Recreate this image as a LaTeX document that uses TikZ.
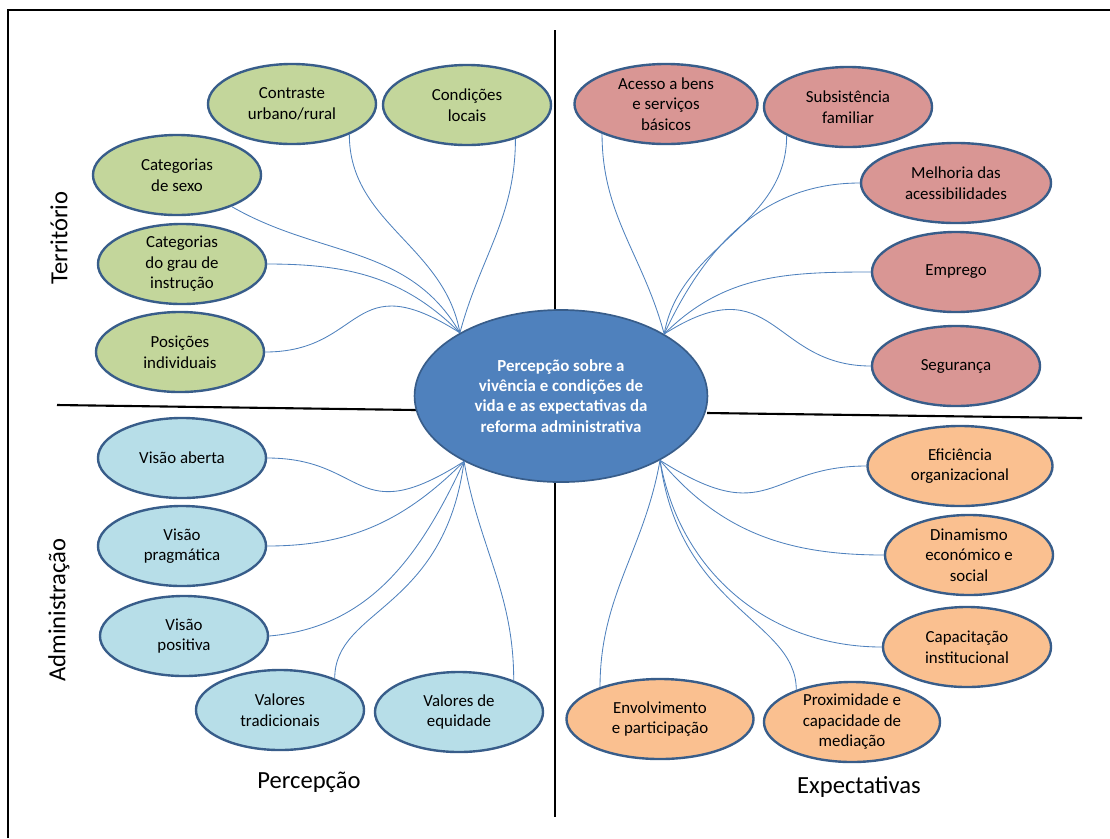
\documentclass[tikz,border=0pt]{standalone}
\usepackage{fontspec}
\setmainfont{Carlito}
\usetikzlibrary{shapes.geometric}
\definecolor{borda}{HTML}{385D8A}
\definecolor{liga}{HTML}{4F81BD}
\definecolor{verde}{HTML}{C3D69B}
\definecolor{rosa}{HTML}{D99694}
\definecolor{azul}{HTML}{B7DEE8}
\definecolor{laranja}{HTML}{FAC090}
\tikzset{
  bubble/.style={ellipse, draw=borda, line width=1.7pt, inner sep=0pt,
    minimum width=4.2cm, minimum height=2cm, align=center,
    font=\fontsize{12}{14.6}\selectfont},
  terr/.style={bubble, fill=verde},
  expe/.style={bubble, fill=rosa},
  adm/.style={bubble, fill=azul},
  expt/.style={bubble, fill=laranja},
  link/.style={liga, line width=0.6pt},
  axis/.style={font=\fontsize{17.5}{20}\selectfont}
}
\begin{document}
\begin{tikzpicture}[x=0.025cm, y=0.025cm]
\useasboundingbox (0,0) rectangle (1110,-838);
% frame and quadrants
\draw[line width=2.1pt] (8,-838) -- (8,-10) -- (1110,-10);
\draw[line width=1.5pt] (555,-30) -- (555,-817);
\draw[line width=1.5pt] (57,-405) -- (416,-410);
\draw[line width=1.5pt] (707,-413) -- (1082,-418);

% centre
\node[ellipse, draw=borda, fill=liga, line width=1.2pt, inner sep=0pt,
  minimum width=7.32cm, minimum height=4.3cm, align=center, text=white,
  font=\fontsize{12}{14.4}\selectfont\bfseries] (hub) at (561,-396)
  {Percepção sobre a\\vivência e condições de\\vida e as expectativas da\\reforma administrativa};
\coordinate (tl) at (hub.148);
\coordinate (tr) at (hub.31);
\coordinate (bl) at (hub.214);
\coordinate (br) at (hub.327);

% Territorio
\node[terr] (contraste) at (292,-104) {Contraste\\urbano/rural};
\node[terr] (condicoes) at (467,-105) {Condições\\locais};
\node[terr] (sexo) at (177,-175) {Categorias\\de sexo};
\node[terr] (grau) at (182,-264) {Categorias\\do grau de\\instrução};
\node[terr] (posicoes) at (180,-352) {Posições\\individuais};

% Expectativas (top)
\node[expe, minimum width=4.575cm] (acesso) at (666,-104) {Acesso a bens\\e serviços\\básicos};
\node[expe] (subsist) at (848,-107) {Subsistência\\familiar};
\node[expe, minimum width=4.75cm] (melhoria) at (956,-183) {Melhoria das\\acessibilidades};
\node[expe] (emprego) at (956,-272) {Emprego};
\node[expe] (seguranca) at (956,-366) {Segurança};

% Administracao
\node[adm] (aberta) at (182,-458) {Visão aberta};
\node[adm] (pragmatica) at (182,-546) {Visão\\pragmática};
\node[adm] (positiva) at (184,-636) {Visão\\positiva};
\node[adm] (tradicionais) at (280,-710) {Valores\\tradicionais};
\node[adm] (equidade) at (459,-712) {Valores de\\equidade};

% Expectativas (bottom)
\node[expt, minimum width=4.625cm] (eficiencia) at (960,-466) {Eficiência\\organizacional};
\node[expt] (dinamismo) at (969,-555) {Dinamismo\\económico e\\social};
\node[expt] (capacitacao) at (967,-647) {Capacitação\\institucional};
\node[expt, minimum width=4.675cm] (envolvimento) at (660,-719) {Envolvimento\\e participação};
\node[expt, minimum width=4.4cm] (proximidade) at (852,-722) {Proximidade e\\capacidade de\\mediação};

% axis labels
\node[axis, rotate=90] (territorio) at (59,-238) {Território};
\node[axis, rotate=90] (administracao) at (59,-610) {Administração};
\node[axis] (percepcao) at (309,-782) {Percepção};
\node[axis] (expectativas) at (859,-787) {Expectativas};

% connectors
\draw[link] (contraste.-28) to[out=-90,in=100] (tl);
\draw[link] (condicoes.-35) to[out=-90,in=75] (tl);
\draw[link] (sexo.-30) to[out=-30,in=120] (tl);
\draw[link] (grau.east) to[out=0,in=135] (tl);
\draw[link] (posicoes.east) .. controls +(100,0) and +(-110,70) .. (tl);

\draw[link] (acesso.205) to[out=-90,in=105] (tr);
\draw[link] (subsist.205) to[out=-90,in=80] (tr);
\draw[link] (melhoria.west) to[out=180,in=65] (tr);
\draw[link] (emprego.west) to[out=180,in=45] (tr);
\draw[link] (seguranca.west) .. controls +(-100,0) and +(110,70) .. (tr);

\draw[link] (aberta.east) .. controls +(100,0) and +(-110,-70) .. (bl);
\draw[link] (pragmatica.east) to[out=0,in=225] (bl);
\draw[link] (positiva.east) to[out=5,in=245] (bl);
\draw[link] (tradicionais.30) .. controls +(0,70) and +(-20,-150) .. (bl);
\draw[link] (equidade.30) to[out=90,in=280] (bl);

\draw[link] (eficiencia.west) .. controls +(-100,0) and +(110,-70) .. (br);
\draw[link] (dinamismo.west) to[out=180,in=-50] (br);
\draw[link] (capacitacao.west) to[out=180,in=-80] (br);
\draw[link] (envolvimento.152) to[out=90,in=260] (br);
\draw[link] (proximidade.150) .. controls +(0,70) and +(20,-150) .. (br);
\end{tikzpicture}
\end{document}
